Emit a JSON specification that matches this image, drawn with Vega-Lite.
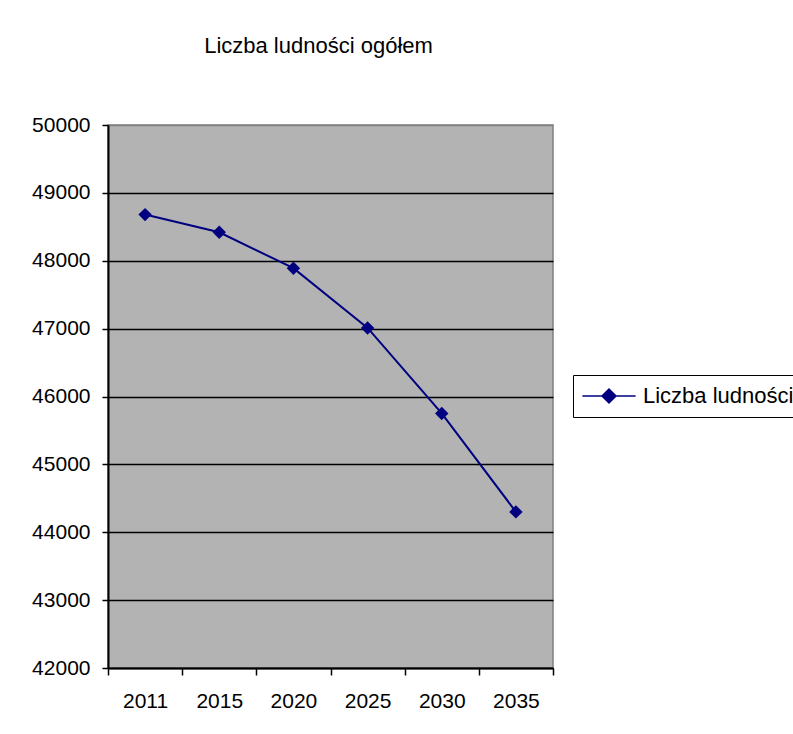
{
  "$schema": "https://vega.github.io/schema/vega-lite/v6.json",
  "autosize": "none",
  "width": 445,
  "height": 543,
  "padding": {"left": 108, "top": 125, "right": 240, "bottom": 66},
  "background": "white",
  "title": {
    "text": "Liczba ludności ogółem",
    "font": "Liberation Sans",
    "fontSize": 22,
    "fontWeight": "normal",
    "color": "black",
    "anchor": "middle",
    "frame": "group",
    "baseline": "alphabetic",
    "offset": 39,
    "dx": -12
  },
  "data": {
    "values": [
      {"rok": "2011", "wartosc": 48680, "seria": "Liczba ludności"},
      {"rok": "2015", "wartosc": 48420, "seria": "Liczba ludności"},
      {"rok": "2020", "wartosc": 47890, "seria": "Liczba ludności"},
      {"rok": "2025", "wartosc": 47010, "seria": "Liczba ludności"},
      {"rok": "2030", "wartosc": 45750, "seria": "Liczba ludności"},
      {"rok": "2035", "wartosc": 44300, "seria": "Liczba ludności"}
    ]
  },
  "encoding": {
    "x": {
      "field": "rok",
      "type": "ordinal",
      "sort": null,
      "scale": {"type": "band", "paddingInner": 0, "paddingOuter": 0},
      "axis": {
        "title": null,
        "labelAngle": 0,
        "labelFont": "Liberation Sans",
        "labelFontSize": 21,
        "labelColor": "black",
        "tickBand": "extent",
        "tickSize": 7,
        "tickColor": "black",
        "tickWidth": 1.5,
        "labelPadding": 15,
        "domainColor": "black",
        "domainWidth": 2,
        "grid": false
      }
    },
    "y": {
      "field": "wartosc",
      "type": "quantitative",
      "scale": {"domain": [42000, 50000], "nice": false, "zero": false},
      "axis": {
        "title": null,
        "values": [42000, 43000, 44000, 45000, 46000, 47000, 48000, 49000, 50000],
        "format": "d",
        "labelFont": "Liberation Sans",
        "labelFontSize": 21,
        "labelColor": "black",
        "tickSize": 6,
        "tickColor": "black",
        "tickWidth": 1.5,
        "labelPadding": 12,
        "domainColor": "black",
        "domainWidth": 2,
        "grid": true,
        "gridColor": {"condition": {"test": "datum.value == 50000", "value": "#808080"}, "value": "black"},
        "gridWidth": 1.5,
        "gridOpacity": 1
      }
    }
  },
  "layer": [
    {
      "mark": {"type": "line", "color": "#000080", "strokeWidth": 2},
      "encoding": {
        "color": {
          "field": "seria",
          "type": "nominal",
          "scale": {"range": ["#000080"]},
          "legend": {
            "title": null,
            "orient": "none",
            "legendX": 465,
            "legendY": 250,
            "padding": 10,
            "strokeColor": "black",
            "fillColor": "white",
            "symbolType": "M-3.8,0H3.8M-1,0L0,-1L1,0L0,1Z",
            "symbolSize": 196,
            "symbolFillColor": "#000080",
            "symbolStrokeColor": "#000080",
            "symbolStrokeWidth": 1.5,
            "symbolOffset": 15,
            "labelOffset": 23,
            "labelFont": "Liberation Sans",
            "labelFontSize": 22,
            "labelColor": "black",
            "labelLimit": 400
          }
        }
      }
    },
    {
      "mark": {"type": "point", "shape": "diamond", "filled": true, "color": "#000080", "size": 180, "opacity": 1}
    }
  ],
  "config": {
    "view": {"fill": "#B3B3B3", "stroke": "#808080", "strokeWidth": 1.5}
  }
}
